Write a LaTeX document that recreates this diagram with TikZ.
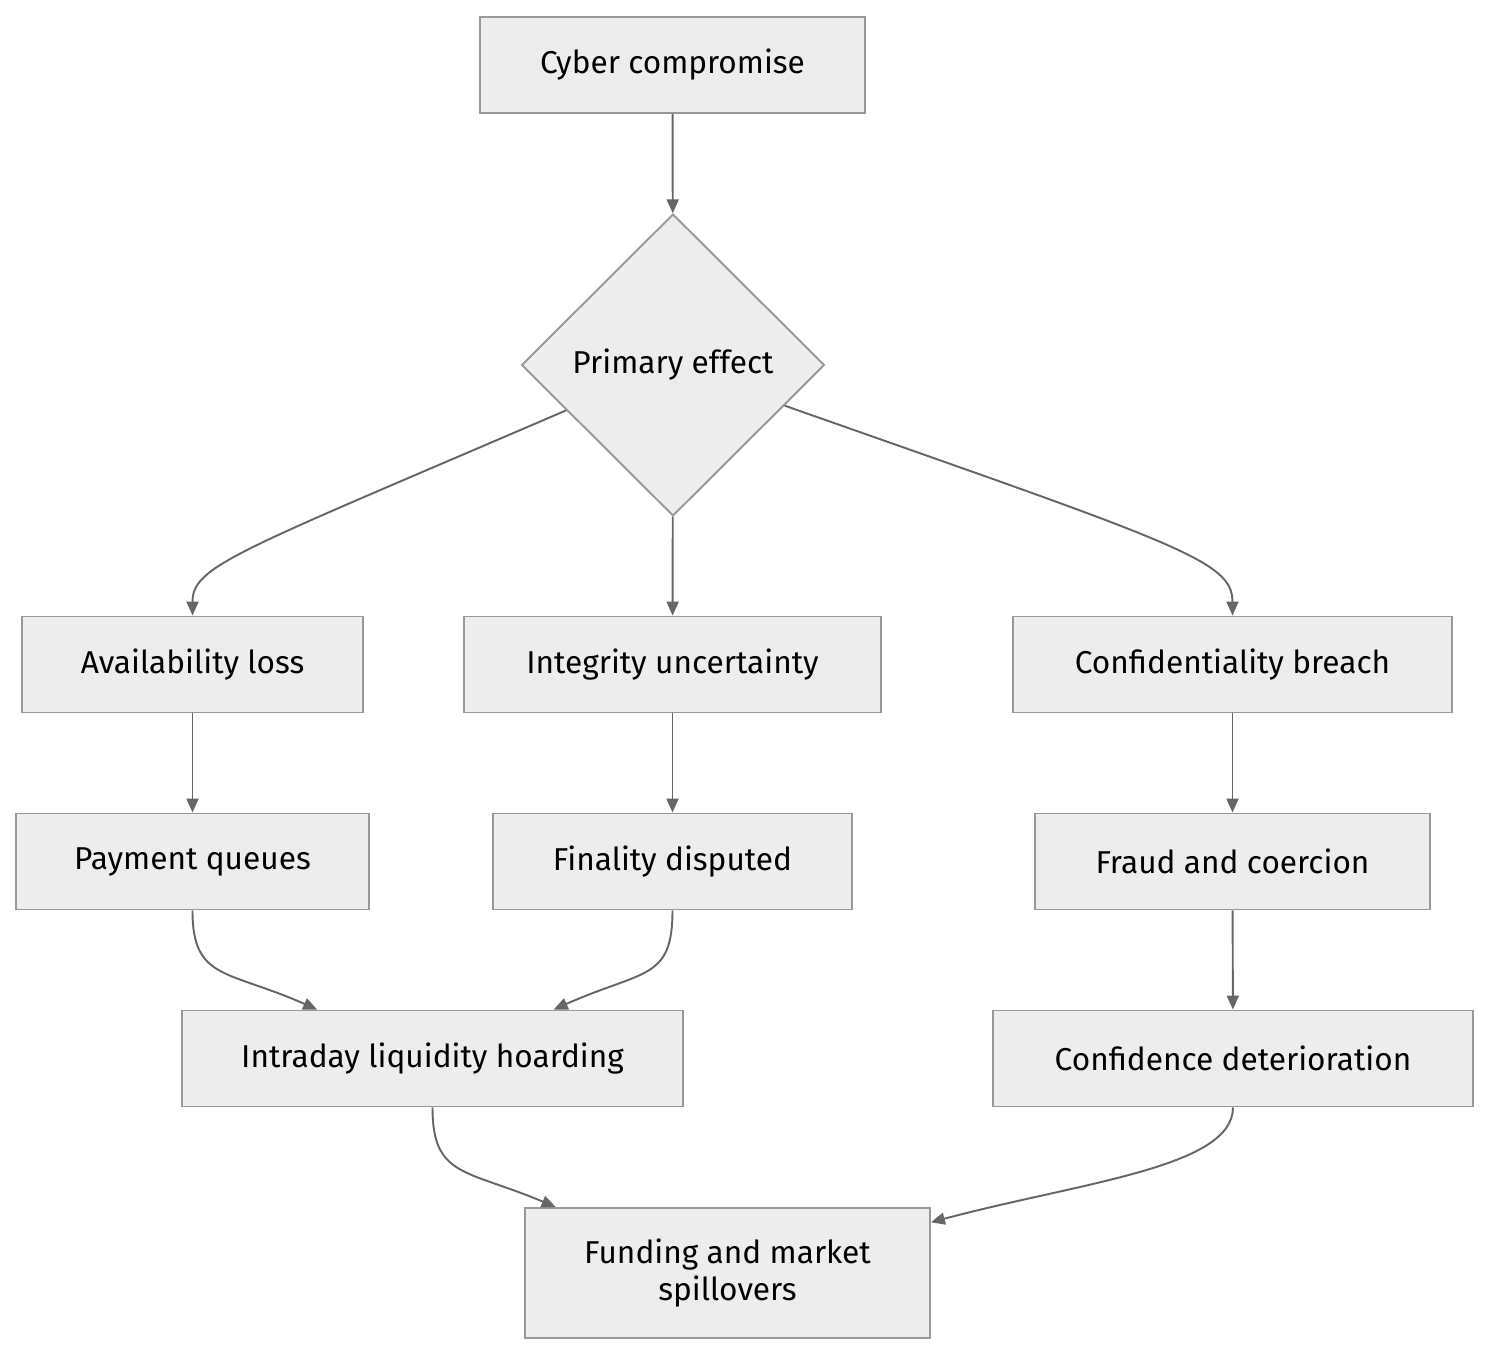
\documentclass[tikz,border=0pt]{standalone}
\usepackage{fontspec}
\setmainfont{Fira Sans}
\usetikzlibrary{shapes.geometric,arrows.meta}

\begin{document}
\begin{tikzpicture}[x=0.02cm, y=-0.02cm,
    box/.style={rectangle, draw=black!40, fill=black!7, line width=1.1pt,
      minimum height=1.92cm, align=center,
      font=\fontsize{18}{21}\selectfont},
    choice/.style={diamond, draw=black!40, fill=black!7, line width=1.1pt,
      inner sep=0pt, minimum width=6.06cm, minimum height=6.04cm,
      font=\fontsize{18}{21}\selectfont},
    link/.style={draw=black!60, line width=1.1pt,
      -{Triangle[length=0.28cm, width=0.24cm]}}]
    \useasboundingbox (0, 0) rectangle (1489, 1356);

    \node[box, minimum width=7.7cm] (cyber) at (672.5, 65) {Cyber compromise};
    \node[choice] (primary) at (673, 365) {Primary effect};
    \node[box, minimum width=6.82cm] (avail) at (192.5, 664.5) {Availability loss};
    \node[box, minimum width=8.34cm] (integ) at (672.5, 664.5) {Integrity uncertainty};
    \node[box, minimum width=8.78cm] (confid) at (1232.5, 664.5) {Confidentiality breach};
    \node[box, minimum width=7.06cm] (queues) at (192.5, 861.5) {Payment queues};
    \node[box, minimum width=7.18cm] (final) at (672.5, 861.5) {Finality disputed};
    \node[box, minimum width=7.9cm] (fraud) at (1232.5, 861.5) {Fraud and coercion};
    \node[box, minimum width=10.02cm] (hoard) at (432.5, 1058.5) {Intraday liquidity hoarding};
    \node[box, minimum width=9.6cm] (trust) at (1233, 1058.5) {Confidence deterioration};
    \node[box, minimum width=8.1cm, minimum height=2.6cm] (spill) at (727.5, 1273)
      {Funding and market\\spillovers};

    \draw[link] (cyber) -- (primary);
    \draw[link] (primary.203) .. controls +(-330, 142) and +(0, -50) .. (avail.north);
    \draw[link] (primary) -- (integ);
    \draw[link] (primary.340) .. controls +(395, 139) and +(0, -55) .. (confid.north);
    \draw[link] (avail) -- (queues);
    \draw[link] (integ) -- (final);
    \draw[link] (confid) -- (fraud);
    \draw[link] (fraud) -- (trust);
    \draw[link] (queues.south) .. controls +(0, 70) and +(-90, -40) .. (hoard.157.6);
    \draw[link] (final.south) .. controls +(0, 70) and +(90, -40) .. (hoard.22);
    \draw[link] (hoard.south) .. controls +(0, 70) and +(-90, -38) .. (spill.159);
    \draw[link] (trust.south) .. controls +(0, 60) and +(150, -40) .. (spill.14);
  \end{tikzpicture}
\end{document}
